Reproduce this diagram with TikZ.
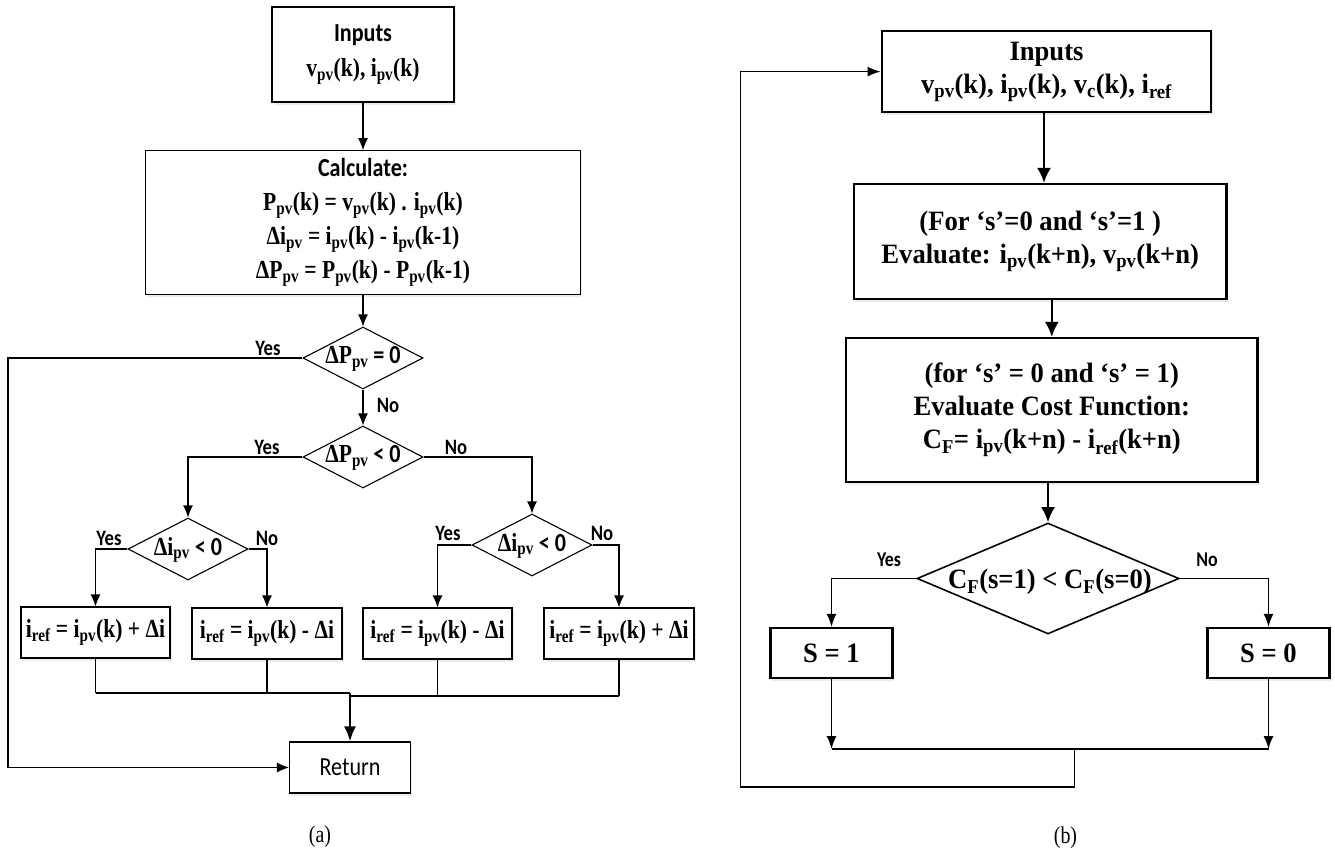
\documentclass[tikz,border=0pt]{standalone}
\usepackage{fontspec}
\usetikzlibrary{arrows.meta,shapes.geometric,shadows}
\newfontfamily\tnrA{Liberation Serif}[FakeStretch=0.83]
\newfontfamily\tnrB{Liberation Serif}[FakeStretch=0.95]
\newfontfamily\calf{Carlito}[FakeStretch=0.85]
\newcommand\sbs[1]{\textsubscript{#1}}
\definecolor{shadowc}{RGB}{225,232,245}
\begin{document}
\begin{tikzpicture}[x=1pt,y=-1pt,
  shd/.style={drop shadow={shadow xshift=1.5pt, shadow yshift=-2.5pt, fill=shadowc, opacity=0.8}},
  boxA/.style={draw, fill=white, shd, line width=1.1pt, inner sep=0pt, align=center, font=\tnrA\bfseries\fontsize{26}{34}\selectfont},
  boxB/.style={draw, fill=white, shd, line width=2.2pt, inner sep=0pt, align=center, font=\tnrB\bfseries\fontsize{28}{33}\selectfont},
  dmdA/.style={draw, diamond, line width=1.1pt, inner sep=0pt, minimum width=120pt, minimum height=62pt},
  dmdB/.style={draw, diamond, line width=1.6pt, inner sep=0pt, minimum width=262pt, minimum height=111pt},
  dtxtA/.style={inner sep=0pt, font=\tnrA\bfseries\fontsize{26}{30}\selectfont},
  dtxtB/.style={inner sep=0pt, font=\tnrB\bfseries\fontsize{28}{30}\selectfont},
  lblA/.style={inner sep=0pt, font=\calf\bfseries\fontsize{22}{24}\selectfont},
  lblB/.style={inner sep=0pt, font=\calf\bfseries\fontsize{21}{24}\selectfont},
  capt/.style={inner sep=0pt, font=\tnrA\fontsize{24}{26}\selectfont},
  lnA/.style={line width=1.1pt},
  thkA/.style={line width=2.4pt},
  arrA/.style={line width=1.1pt, -{Latex[length=12pt,width=10pt]}},
  arrThk/.style={line width=2.4pt, -{Latex[length=15pt,width=12pt]}},
  lnB/.style={line width=1.5pt},
  arrB/.style={line width=2.2pt, -{Latex[length=15pt,width=14pt]}},
  arrBt/.style={line width=1.5pt, -{Latex[length=13pt,width=10pt]}}
]
\useasboundingbox (0,0) rectangle (1335,854);

% ---------------- (a) ----------------
\node[boxA, minimum width=182pt, minimum height=95pt, font=\tnrA\bfseries\fontsize{26}{35}\selectfont] (in1) at (363,54.5)
  {{\calf Inputs}\\v\sbs{pv}(k), i\sbs{pv}(k)};
\node[boxA, minimum width=434.6pt, minimum height=143.3pt] (calc) at (363,222.4)
  {{\calf Calculate:}\\
   P\sbs{pv}(k) = v\sbs{pv}(k) . i\sbs{pv}(k)\\
   Δi\sbs{pv} = i\sbs{pv}(k) - i\sbs{pv}(k-1)\\
   ΔP\sbs{pv} = P\sbs{pv}(k) - P\sbs{pv}(k-1)};

\node[dmdA] (d1) at (363,358) {};
\node[dtxtA] (d1t) at (363,359) {ΔP\sbs{pv}{\calf{} = 0}};
\node[dmdA] (d2) at (363,457) {};
\node[dtxtA] (d2t) at (363,458) {ΔP\sbs{pv}{\calf{} < 0}};
\node[dmdA] (d3) at (188,549) {};
\node[dtxtA] (d3t) at (188,550) {Δi\sbs{pv}{\calf{} < 0}};
\node[dmdA] (d4) at (532,545) {};
\node[dtxtA] (d4t) at (532,546) {Δi\sbs{pv}{\calf{} < 0}};

\node[lblA] (y1) at (268,348) {Yes};
\node[lblA] (n1) at (388,405) {No};
\node[lblA] (y2) at (267,447) {Yes};
\node[lblA] (n2) at (456,447) {No};
\node[lblA] (y3) at (109,538) {Yes};
\node[lblA] (n3) at (267,538) {No};
\node[lblA] (y4) at (448,533) {Yes};
\node[lblA] (n4) at (602,533) {No};

\node[boxA, minimum width=149pt, minimum height=51pt] (b1) at (95.5,632.5) {i\sbs{ref} = i\sbs{pv}(k) + Δi};
\node[boxA, minimum width=150pt, minimum height=51pt] (b2) at (267,633.5) {i\sbs{ref} = i\sbs{pv}(k) - Δi};
\node[boxA, minimum width=149pt, minimum height=51pt] (b3) at (437.5,633.5) {i\sbs{ref} = i\sbs{pv}(k) - Δi};
\node[boxA, minimum width=150pt, minimum height=51pt] (b4) at (619,633.5) {i\sbs{ref} = i\sbs{pv}(k) + Δi};

\node[boxA, minimum width=121pt, minimum height=51pt, font=\calf\mdseries\fontsize{26}{30}\selectfont] (ret) at (350,767.5) {Return};

\draw[arrA] (in1.south) -- (calc.north);
\draw[arrA] (calc.south) -- (d1.north);
\draw[arrA] (d1.south) -- (d2.north);
\draw[arrA] (d2.west) -| (d3.north);
\draw[arrA] (d2.east) -| (d4.north);
\draw[arrA] (d3.west) -| (b1.north);
\draw[arrA] (d3.east) -| (b2.north);
\draw[arrA] (d4.west) -| (b3.north);
\draw[arrA] (d4.east) -| (b4.north);

\coordinate (m) at (350,693);
\coordinate (m2) at (350,696);
\draw[line width=1.6pt] (b1.south) -- (b1.south |- m);
\draw[lnA] (b2.south) -- (b2.south |- m);
\draw[thkA] (b1.south |- m) -- (m);
\draw[lnA] (b3.south) -- (b3.south |- m2);
\draw[lnA] (b4.south) -- (b4.south |- m2);
\draw[lnA] (m2) -- (b4.south |- m2);
\draw[arrThk] (m) -- (ret.north);

\coordinate (lc) at (8,767.5);
\draw[arrA] (d1.west) -| (lc) -- (ret.west);

\node[capt] (capa) at (320,837) {(a)};

% ---------------- (b) ----------------
\node[boxB, minimum width=329.7pt, minimum height=81.3pt] (in2) at (1046.5,71.6)
  {Inputs\\v\sbs{pv}(k), i\sbs{pv}(k), v\sbs{c}(k), i\sbs{ref}};
\node[boxB, minimum width=372.5pt, minimum height=115pt] (ev1) at (1040.2,241.5)
  {(For ‘s’=0 and ‘s’=1 )\\Evaluate: i\sbs{pv}(k+n), v\sbs{pv}(k+n)};
\node[boxB, minimum width=411.5pt, minimum height=144pt] (ev2) at (1051.8,410)
  {(for ‘s’ = 0 and ‘s’ = 1)\\Evaluate Cost Function:\\C\sbs{F}= i\sbs{pv}(k+n) - i\sbs{ref}(k+n)};
\node[dmdB] (d5) at (1048,578.5) {};
\node[dtxtB] (d5t) at (1050,582) {C\sbs{F}(s=1) < C\sbs{F}(s=0)};
\node[boxB, minimum width=122pt, minimum height=50pt] (s1) at (831.5,653) {S = 1};
\node[boxB, minimum width=122pt, minimum height=50pt] (s0) at (1268.5,653) {S = 0};

\node[lblB] (y5) at (889,560) {Yes};
\node[lblB] (n5) at (1207,560) {No};

\coordinate (ta) at (1044,0);
\draw[arrB] (in2.south -| ta) -- (ev1.north -| ta);
\draw[arrB] (ev2.north |- ev1.south) -- (ev2.north);
\draw[arrB] (d5.north |- ev2.south) -- (d5.north);
\draw[arrBt] (d5.west) -| (s1.north);
\draw[arrBt] (d5.east) -| (s0.north);

\coordinate (j1) at (831.5,749);
\coordinate (j2) at (1268.5,749);
\coordinate (jm) at (1074.5,749);
\coordinate (lb) at (740.5,787);
\draw[arrBt] (s1.south) -- (j1);
\draw[arrBt] (s0.south) -- (j2);
\draw[lnB] (j1) -- (j2);
\draw[arrBt] (jm) |- (lb) |- (in2.west);

\node[capt] (capb) at (1065.5,838) {(b)};
\end{tikzpicture}
\end{document}
